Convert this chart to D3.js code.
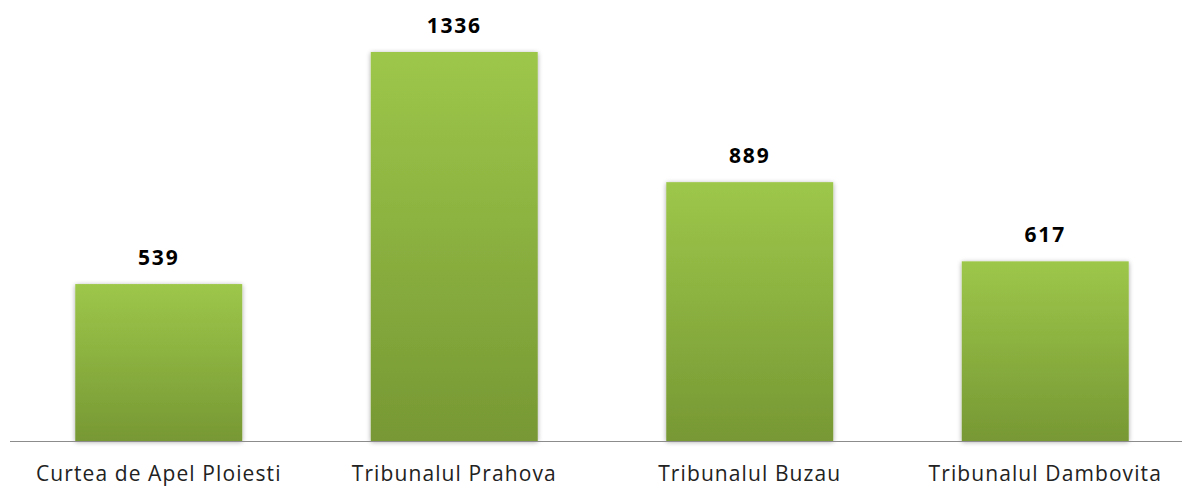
<!DOCTYPE html>
<html>
<head>
<meta charset="utf-8">
<script src="https://cdn.jsdelivr.net/npm/d3@7"></script>
<style>
  html, body { margin: 0; padding: 0; background: #fff; }
  svg { display: block; }
</style>
</head>
<body>
<svg id="chart" width="1182" height="488"></svg>
<script>
const categories = ["Curtea de Apel Ploiesti", "Tribunalul Prahova", "Tribunalul Buzau", "Tribunalul Dambovita"];
const values = [539, 1336, 889, 617];

const svg = d3.select("#chart");
const W = 1182, H = 488;
const baseY = 441;

const x = d3.scaleBand().domain(categories).range([11, 1193]).paddingInner(0.435).paddingOuter(0.2175);
const y = d3.scaleLinear().domain([0, 1336]).range([baseY, 52]);

const defs = svg.append("defs");
const grad = defs.append("linearGradient").attr("id", "g").attr("x1", 0).attr("y1", 0).attr("x2", 0).attr("y2", 1);
grad.append("stop").attr("offset", "0%").attr("stop-color", "#9dc74a");
grad.append("stop").attr("offset", "100%").attr("stop-color", "#779834");

const f = defs.append("filter").attr("id", "sh").attr("x", "-10%").attr("y", "-10%").attr("width", "120%").attr("height", "120%");
f.append("feGaussianBlur").attr("in", "SourceAlpha").attr("stdDeviation", 2.5).attr("result", "b");
f.append("feOffset").attr("in", "b").attr("dx", 0).attr("dy", 1).attr("result", "o");
f.append("feComponentTransfer").attr("in", "o").attr("result", "t")
  .append("feFuncA").attr("type", "linear").attr("slope", 0.35);
const m = f.append("feMerge");
m.append("feMergeNode").attr("in", "t");
m.append("feMergeNode").attr("in", "SourceGraphic");

svg.selectAll("rect.bar").data(values).join("rect")
  .attr("class", "bar")
  .attr("x", (d, i) => x(categories[i]))
  .attr("width", x.bandwidth())
  .attr("y", d => y(d))
  .attr("height", d => baseY - y(d))
  .attr("fill", "url(#g)")
  .attr("filter", "url(#sh)");

svg.append("line")
  .attr("x1", 10).attr("x2", W).attr("y1", baseY + 0.5).attr("y2", baseY + 0.5)
  .attr("stroke", "#8c8c8c").attr("stroke-width", 1.2);

svg.selectAll("text.val").data(values).join("text")
  .attr("class", "val")
  .attr("x", (d, i) => x(categories[i]) + x.bandwidth() / 2)
  .attr("y", d => y(d) - 19)
  .attr("text-anchor", "middle")
  .attr("font-family", "'Open Sans', 'Liberation Sans', sans-serif")
  .attr("font-weight", "bold")
  .attr("font-size", 21)
  .attr("letter-spacing", 1.8)
  .attr("fill", "#000")
  .text(d => d);

svg.selectAll("text.cat").data(categories).join("text")
  .attr("class", "cat")
  .attr("x", d => x(d) + x.bandwidth() / 2)
  .attr("y", 481)
  .attr("text-anchor", "middle")
  .attr("font-family", "'Open Sans', 'Liberation Sans', sans-serif")
  .attr("font-size", 21)
  .attr("letter-spacing", 1.1)
  .attr("fill", "#222")
  .text(d => d);
</script>
</body>
</html>
